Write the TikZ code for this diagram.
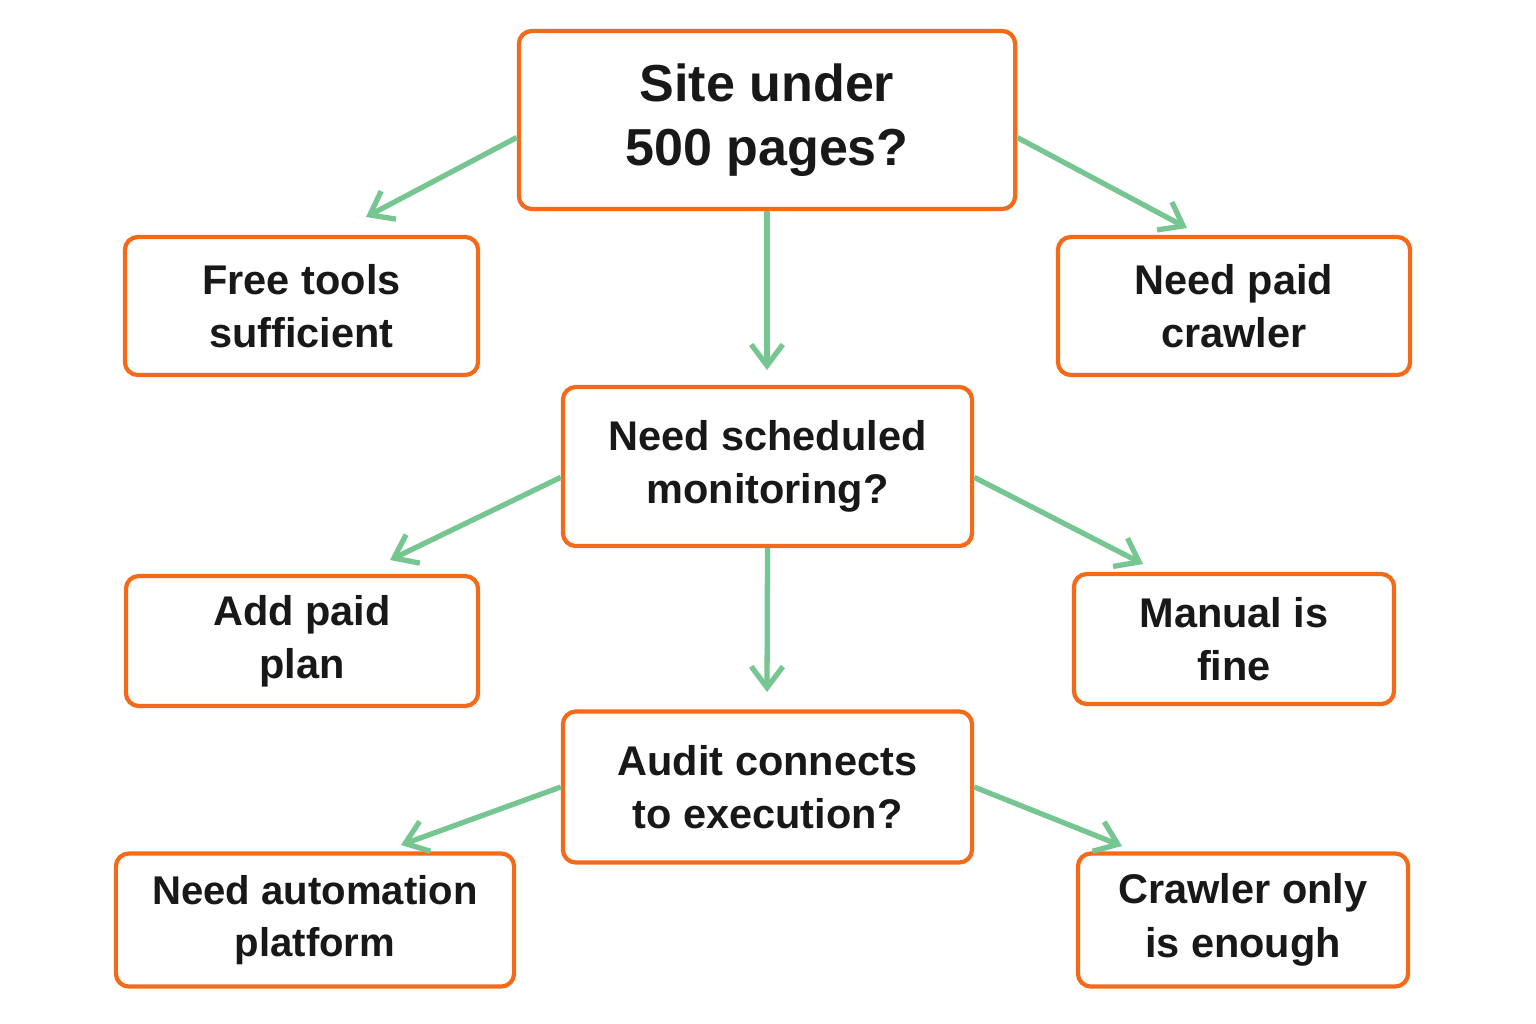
\documentclass[tikz,border=0pt]{standalone}
\usepackage{fontspec}
\setmainfont{Liberation Sans}
\usetikzlibrary{arrows.meta}
\definecolor{boxorange}{RGB}{245,106,24}
\definecolor{arrowgreen}{RGB}{118,198,146}
\definecolor{textdark}{RGB}{24,24,24}

\begin{document}
\begin{tikzpicture}[x=0.01cm,y=-0.01cm,
    box/.style={draw=boxorange, line width=1.2pt, rounded corners=0.13cm, fill=white,
      align=center, text=textdark, inner sep=0pt,
      font=\fontsize{11.8}{15.2}\selectfont\bfseries},
    link/.style={draw=arrowgreen, line width=1.5pt,
      -{Straight Barb[length=6pt,width=9pt]}}]
        \fill[white] (0,0) rectangle (1536,1024);
        \node[box, minimum width=4.96cm, minimum height=1.78cm,
          font=\fontsize{14.8}{18.3}\selectfont\bfseries](site) at (767,120) {Site under\\500 pages?};
        \node[box, minimum width=3.53cm, minimum height=1.38cm](free) at (301.5,306) {Free tools\\sufficient};
        \node[box, minimum width=3.52cm, minimum height=1.38cm](paid) at (1234,306) {Need paid\\crawler};
        \node[box, minimum width=4.09cm, minimum height=1.59cm](monitor) at (767.5,466.5) {Need scheduled\\monitoring?};
        \node[box, minimum width=3.52cm, minimum height=1.30cm](plan) at (302,641) {Add paid\\plan};
        \node[box, minimum width=3.20cm, minimum height=1.30cm](manual) at (1234,639) {Manual is\\fine};
        \node[box, minimum width=4.09cm, minimum height=1.51cm](audit) at (767.5,787) {Audit connects\\to execution?};
        \node[box, minimum width=3.98cm, minimum height=1.33cm,
          font=\fontsize{11.4}{14.8}\selectfont\bfseries](platform) at (315,920) {Need automation\\platform};
        \node[box, minimum width=3.30cm, minimum height=1.33cm](crawler) at (1243,920) {Crawler only\\is enough};
        % free ends of the arrows
        \coordinate(t1) at (366,217);
        \coordinate(t2) at (1187,228);
        \coordinate(t3) at (767,370);
        \coordinate(t4) at (390,560);
        \coordinate(t5) at (1143,564);
        \coordinate(t6) at (767,692);
        \coordinate(t7) at (401,845);
        \coordinate(t8) at (1122,846);
        \draw[link](site.184)--(t1);
        \draw[link](site.-4)--(t2);
        \draw[link](site.south)--(t3);
        \draw[link](monitor.183)--(t4);
        \draw[link](monitor.-3)--(t5);
        \draw[link](monitor.south)--(t6);
        \draw[link](audit.180)--(t7);
        \draw[link](audit.0)--(t8);
        \end{tikzpicture}
\end{document}
